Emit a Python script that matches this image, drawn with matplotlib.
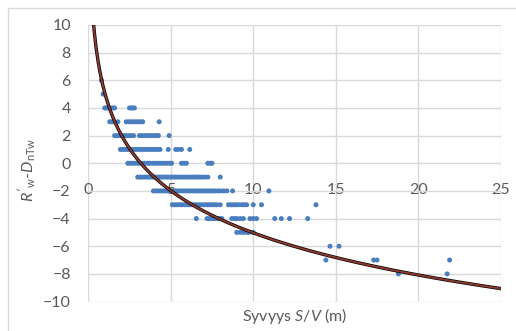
import numpy as np
import matplotlib
matplotlib.use("Agg")
import matplotlib.pyplot as plt
from matplotlib.patches import Rectangle

# --- data: S/V (m) values for each difference level ---
levels = [6, 5, 4, 3, 2, 1, 0, -1, -2, -3, -4, -5, -6, -7, -8]
sv_rows = [
    [0.8],
    [0.9],
    [1.0, 1.1, 1.2, 1.35, 1.5, 1.6, 2.5, 2.6, 2.7, 2.8],
    [1.3, 1.45, 1.6, 1.8, 2.3, 2.45, 2.6, 2.75, 2.9, 3.05, 3.2, 3.3, 4.3],
    [1.6, 1.75, 1.9, 2.0, 2.15, 2.3, 2.45, 2.6, 2.75, 3.1, 3.25, 3.4, 3.55,
     3.7, 3.85, 4.0, 4.15, 4.25, 4.9],
    [1.95, 2.1, 2.25, 2.4, 2.55, 2.7, 2.85, 3.0, 3.15, 3.3, 3.45, 3.6, 3.75,
     3.9, 4.05, 4.2, 4.35, 4.85, 5.3, 5.45, 5.65, 6.15],
    [2.4, 2.55, 2.7, 2.85, 3.0, 3.15, 3.3, 3.45, 3.6, 3.75, 3.9, 4.05, 4.2,
     4.35, 4.5, 4.65, 4.8, 4.95, 5.05, 5.65, 5.8, 5.95, 7.25, 7.4, 7.5],
    [3.0, 3.15, 3.3, 3.45, 3.6, 3.75, 3.9, 4.05, 4.2, 4.35, 4.5, 4.65, 4.8,
     4.95, 5.1, 5.25, 5.4, 5.55, 5.7, 5.85, 6.0, 6.15, 6.3, 6.45, 6.6, 6.75,
     6.9, 7.05, 7.25, 8.0],
    [3.95, 4.1, 4.25, 4.4, 4.55, 4.7, 4.85, 5.0, 5.15, 5.3, 5.45, 5.6, 5.75,
     5.9, 6.05, 6.2, 6.35, 6.5, 6.65, 6.8, 6.95, 7.1, 7.25, 7.4, 7.55, 7.7,
     7.85, 8.0, 8.2, 8.4, 8.75, 10.95],
    [5.1, 5.25, 5.4, 5.55, 5.7, 5.85, 6.0, 6.15, 6.3, 6.45, 6.6, 6.75, 6.9,
     7.05, 7.2, 7.35, 7.5, 7.65, 7.8, 8.0, 8.5, 8.65, 8.8, 8.95, 9.1, 9.3,
     9.45, 9.6, 10.0, 10.5, 13.8],
    [6.55, 7.2, 7.35, 7.5, 7.65, 7.8, 7.95, 8.1, 8.7, 8.85, 9.0, 9.2, 9.4,
     9.8, 10.0, 10.2, 11.3, 11.7, 12.2, 13.3],
    [9.0, 9.2, 9.4, 9.6, 9.75, 10.0],
    [14.65, 15.2],
    [14.4, 17.3, 17.5, 21.9],
    [18.8, 21.75],
]

# logarithmic trendline y = a - b*ln(x), coefficients
trend_a = 5.1
trend_b = 4.4

x_ticks = [0, 5, 10, 15, 20, 25]
y_ticks = [10, 8, 6, 4, 2, 0, -2, -4, -6, -8, -10]

plt.rcParams['font.family'] = ['Lato', 'DejaVu Sans']
plt.rcParams['mathtext.fontset'] = 'custom'
plt.rcParams['mathtext.rm'] = 'Lato'
plt.rcParams['mathtext.it'] = 'Lato:italic'

fig = plt.figure(figsize=(5.16, 3.31), dpi=100)
ax = fig.add_axes([0.171, 0.089, 0.7995, 0.8355])

# chart border (only left and top edges fall inside the picture)
fig.patches.append(Rectangle((7.5 / 516, -0.05), 1.2, 1.05 - 7.5 / 331,
                             transform=fig.transFigure, fill=False,
                             edgecolor="#d9d9d9", linewidth=1))

xs = np.concatenate([np.array(r, dtype=float) for r in sv_rows])
ys = np.concatenate([np.full(len(r), lv, dtype=float) for r, lv in zip(sv_rows, levels)])
ax.scatter(xs, ys, s=13, color="#4a7ebf", edgecolors="none", zorder=3)

xc = np.linspace(0.3, 25, 400)
yc = trend_a - trend_b * np.log(xc)
ax.plot(xc, yc, color="black", linewidth=2.4, zorder=4)
ax.plot(xc, yc, color="#8b3a2f", linewidth=1.4, zorder=5)

ax.set_xlim(0, 25)
ax.set_ylim(-10, 10)
ax.set_xticks(x_ticks)
ax.set_yticks(y_ticks)
ax.grid(True, color="#d9d9d9", linewidth=1)
ax.set_axisbelow(True)

for s in ax.spines.values():
    s.set_visible(False)
ax.spines['bottom'].set_position(('data', 0))

ax.tick_params(axis='both', length=0, labelsize=11.5, labelcolor="#595959")
ax.tick_params(axis='y', pad=12.5)
ax.tick_params(axis='x', pad=14)

ax.set_ylabel(r"$R'_{\mathrm{w}}$-$D_{\mathrm{nTw}}$", fontsize=11.5,
              color="#595959")
ax.yaxis.set_label_coords(-0.122, 0.476)
fig.text(0.571, 0.045, r"Syvyys $S$/$V$ (m)", fontsize=11.5, color="#595959",
         ha="center", va="center")

fig.savefig("out.png", dpi=100)
